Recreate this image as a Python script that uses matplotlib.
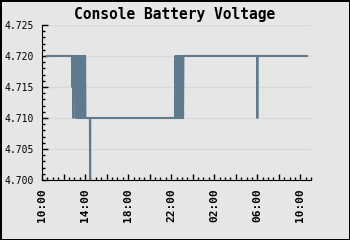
import matplotlib
matplotlib.use("Agg")
import matplotlib.pyplot as plt
import matplotlib.dates as mdates
import pandas as pd

# readings (HH:MM, the series runs past midnight into the next day)
times = [
    "10:26", "12:48",
    "12:49", "12:50", "12:51", "12:52", "12:53", "12:54", "12:55", "12:56",
    "12:57", "12:58", "12:59", "13:00", "13:01", "13:02", "13:03", "13:04",
    "13:05", "13:06", "13:07", "13:08",
    "13:10", "13:12", "13:14", "13:16", "13:18", "13:20", "13:22", "13:24",
    "13:26", "13:28", "13:30", "13:32", "13:34", "13:36", "13:38", "13:40",
    "13:42", "13:44", "13:46", "13:48", "13:50", "13:52", "13:54", "13:56",
    "13:58", "14:00", "14:02",
    "14:27", "14:28", "14:29", "22:22",
    "22:24", "22:26", "22:28", "22:30", "22:32", "22:34", "22:36", "22:38",
    "22:40", "22:42", "22:44", "22:46", "22:48", "22:50", "22:52", "22:54",
    "22:56", "22:58", "23:00", "23:02", "23:04", "23:06", "23:08",
    "05:59", "06:00", "06:01", "10:37",
]
volts = [
    4.720, 4.720,
    4.715, 4.720, 4.715, 4.720, 4.715, 4.720, 4.710, 4.720,
    4.715, 4.720, 4.715, 4.720, 4.715, 4.720, 4.715, 4.720,
    4.715, 4.720, 4.715, 4.720,
    4.710, 4.720, 4.710, 4.720, 4.710, 4.720, 4.710, 4.720,
    4.710, 4.720, 4.710, 4.720, 4.710, 4.720, 4.710, 4.720,
    4.710, 4.720, 4.710, 4.720, 4.710, 4.720, 4.710, 4.720,
    4.710, 4.720, 4.710,
    4.710, 4.700, 4.710, 4.710,
    4.720, 4.710, 4.720, 4.710, 4.720, 4.710, 4.720, 4.710,
    4.720, 4.710, 4.720, 4.710, 4.720, 4.710, 4.720, 4.710,
    4.720, 4.710, 4.720, 4.710, 4.720, 4.710, 4.720,
    4.720, 4.710, 4.720, 4.720,
]

# turn HH:MM into timestamps, rolling over to the next day at midnight
stamps = []
day = pd.Timestamp("2024-01-01")
prev = None
for t in times:
    ts = day + pd.Timedelta(hours=int(t[:2]), minutes=int(t[3:]))
    if prev is not None and ts < prev:
        day = day + pd.Timedelta(days=1)
        ts = ts + pd.Timedelta(days=1)
    stamps.append(ts.to_pydatetime())
    prev = ts

bg = "#e6e6e6"
fig = plt.figure(figsize=(3.5, 2.4), dpi=100, facecolor=bg)
fig.patch.set_edgecolor("black")
fig.patch.set_linewidth(2)
ax = fig.add_axes([0.12, 0.25, 0.769, 0.646])
ax.set_facecolor(bg)

ax.plot(stamps, volts, color="#5f7a8c", linewidth=1.5)

ax.set_ylim(4.700, 4.725)
ax.set_yticks([4.700, 4.705, 4.710, 4.715, 4.720, 4.725])
ax.set_yticks([4.700 + i * 0.001 for i in range(26)], minor=True)
ax.set_yticklabels(["4.700", "4.705", "4.710", "4.715", "4.720", "4.725"],
                   family="DejaVu Sans Mono", fontsize=7)

start = pd.Timestamp("2024-01-01 10:00")
end = pd.Timestamp("2024-01-02 11:00")
ax.set_xlim(start.to_pydatetime(), end.to_pydatetime())
major = pd.date_range(start, end, freq="2h")
minor = pd.date_range(start, end, freq="30min")
ax.set_xticks(mdates.date2num(major.to_pydatetime()))
ax.set_xticks(mdates.date2num(minor.to_pydatetime()), minor=True)
ax.set_xticklabels([d.strftime("%H:%M") if d.hour % 4 == 2 else "" for d in major],
                   family="DejaVu Sans Mono", fontweight="bold", fontsize=8,
                   rotation=90)

ax.grid(axis="y", color="#d9d9d9", linewidth=1)
ax.set_axisbelow(True)
for s in ["top", "right"]:
    ax.spines[s].set_visible(False)
ax.tick_params(which="both", direction="in", color="black")
ax.tick_params(which="major", length=4, width=1)
ax.tick_params(which="minor", length=2.5, width=1)
ax.tick_params(axis="y", pad=6)
ax.tick_params(axis="x", pad=6)

fig.text(0.5, 0.94, "Console Battery Voltage", ha="center", va="center",
         family="DejaVu Sans Mono", fontweight="bold", fontsize=10.5)

fig.savefig("out.png", dpi=100, facecolor=bg, edgecolor="black")
